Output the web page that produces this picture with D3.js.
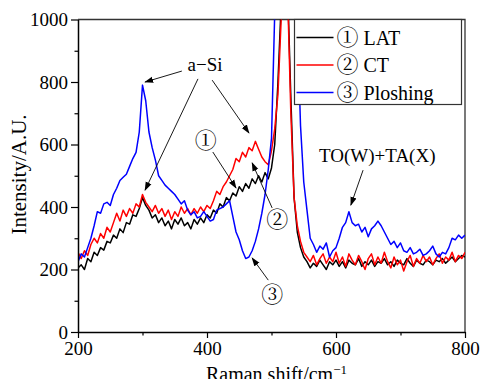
<!DOCTYPE html>
<html>
<head>
<meta charset="utf-8">
<script src="https://cdn.jsdelivr.net/npm/d3@7"></script>
<style>
  body { margin: 0; background: #fff; }
  svg { display: block; }
  text { font-family: "Liberation Serif", "Times New Roman", serif; fill: #000; }
  .cjk { font-family: "Noto Serif CJK SC", "Noto Sans CJK SC", serif; }
</style>
</head>
<body>
<div id="chart"></div>
<script>
// Raman shift grid, 200..800 step 5
var shiftStart = 200, shiftStep = 5;

var lat = [205,215,200,235,225,255,245,270,262,290,285,310,300,330,318,350,345,375,370,395,
  430,405,390,365,375,350,365,340,355,330,360,345,365,340,350,330,360,345,365,350,
  375,365,390,380,410,400,430,420,445,435,465,450,475,460,490,475,500,480,510,490,
  525,600,800,1050,1500,1100,750,430,320,270,240,225,205,220,210,230,215,200,225,215,
  230,210,225,205,230,220,215,235,210,225,215,230,210,225,220,235,215,225,210,230,
  220,215,235,220,210,230,220,215,230,225,215,230,225,235,220,230,240,225,235,245,240];

var ct = [255,235,260,245,280,300,285,315,300,335,320,350,380,355,390,370,395,380,410,400,
  440,415,400,385,405,380,395,370,390,360,385,370,400,380,395,375,395,380,400,385,
  405,395,420,450,440,465,480,500,520,555,545,575,560,590,580,610,585,560,545,535,
  580,650,760,1000,1600,1080,700,430,340,290,255,240,225,245,215,235,250,220,240,225,
  255,220,240,210,250,230,215,245,225,200,235,250,215,240,220,255,225,205,240,215,
  230,195,225,245,210,235,220,245,225,240,215,235,250,220,240,230,255,225,245,235,255];

var ploshing = [225,250,240,270,300,340,385,380,410,415,405,440,460,485,495,505,530,555,575,640,
  790,740,640,590,550,500,485,470,460,450,440,425,410,420,390,375,385,365,370,385,
  370,355,360,390,395,400,410,420,370,320,295,260,235,240,260,290,330,380,440,520,
  620,1020,1500,2000,2200,2000,1700,1300,1000,660,480,390,300,280,255,275,265,285,240,260,
  270,300,335,350,385,350,340,345,320,335,305,330,340,355,340,320,300,280,290,270,
  285,260,255,270,250,255,265,245,250,260,275,250,240,255,250,270,300,295,310,300,310];

var seriesNames = ["\u2460 LAT", "\u2461 CT", "\u2462 Ploshing"];
var seriesColors = ["#000000", "#ff0000", "#0000ff"];
var xTicks = [200, 400, 600, 800];
var xMinor = [300, 500, 700];
var yTicks = [0, 200, 400, 600, 800, 1000];
var yMinor = [100, 300, 500, 700, 900];

// annotations in data units
var notes = [
  {text: "a\u2212Si", x: 397, y: 835},
  {text: "TO(W)+TA(X)", x: 664, y: 544}
];
var circled = [
  {text: "\u2460", x: 398, y: 618},
  {text: "\u2461", x: 509, y: 365},
  {text: "\u2462", x: 501, y: 125}
];
var arrows = [
  {x1: 361, y1: 835, x2: 304, y2: 800},
  {x1: 386, y1: 810, x2: 304, y2: 454},
  {x1: 408, y1: 806, x2: 465, y2: 637},
  {x1: 409, y1: 576, x2: 445, y2: 461},
  {x1: 501, y1: 397, x2: 470, y2: 541},
  {x1: 495, y1: 166, x2: 470, y2: 237},
  {x1: 642, y1: 518, x2: 623, y2: 406}
];

var outerWidth = 480, outerHeight = 379;
var margin = {left: 78, top: 19.5, right: 15, bottom: 47};
var innerWidth = outerWidth - margin.left - margin.right;
var innerHeight = outerHeight - margin.top - margin.bottom;

var svg = d3.select("#chart").append("svg")
  .attr("width", outerWidth)
  .attr("height", outerHeight);

var defs = svg.append("defs");
defs.append("marker")
  .attr("id", "arrow")
  .attr("viewBox", "0 0 10 10")
  .attr("refX", 9).attr("refY", 5)
  .attr("markerWidth", 9).attr("markerHeight", 9)
  .attr("markerUnits", "userSpaceOnUse")
  .attr("orient", "auto")
  .append("path").attr("d", "M0,1.5 L10,5 L0,8.5 Z").attr("fill", "#000");

defs.append("clipPath").attr("id", "clip")
  .append("rect").attr("width", innerWidth).attr("height", innerHeight);

var g = svg.append("g")
  .attr("transform", "translate(" + margin.left + "," + margin.top + ")");

var scaleX = d3.scaleLinear().domain([200, 800]).range([0, innerWidth]);
var scaleY = d3.scaleLinear().domain([0, 1000]).range([innerHeight, 0]);

// frame (top + right)
g.append("path")
  .attr("d", "M0,0 H" + innerWidth + " V" + innerHeight)
  .attr("fill", "none").attr("stroke", "#333").attr("stroke-width", 1.3);

var line = d3.line()
  .x(function(d, i) { return scaleX(shiftStart + i * shiftStep); })
  .y(function(d) { return scaleY(d); });

var plot = g.append("g").attr("clip-path", "url(#clip)");
[lat, ct, ploshing].forEach(function(s, k) {
  plot.append("path")
    .attr("d", line(s))
    .attr("fill", "none")
    .attr("stroke", seriesColors[k])
    .attr("stroke-width", 1.5)
    .attr("stroke-linejoin", "round");
});

// axes
var fmt = d3.format("d");
var xAxisG = g.append("g").attr("transform", "translate(0," + innerHeight + ")");
xAxisG.call(d3.axisBottom(scaleX).tickValues(xTicks).tickFormat(fmt).tickSize(6).tickSizeOuter(0).tickPadding(4));
xAxisG.append("g").call(d3.axisBottom(scaleX).tickValues(xMinor).tickSize(3.5).tickFormat(""))
  .select(".domain").remove();

var yAxisG = g.append("g");
yAxisG.call(d3.axisLeft(scaleY).tickValues(yTicks).tickFormat(fmt).tickSize(7).tickSizeOuter(0).tickPadding(3));
yAxisG.append("g").call(d3.axisLeft(scaleY).tickValues(yMinor).tickSize(3.5).tickFormat(""))
  .select(".domain").remove();

svg.selectAll("g").attr("font-family", null);
svg.selectAll(".domain").attr("stroke", "#000").attr("stroke-width", 1.5);
svg.selectAll(".tick line").attr("stroke", "#000").attr("stroke-width", 1.2);
svg.selectAll(".tick text")
  .attr("font-size", "19px")
  .attr("fill", "#000");

// axis titles
svg.append("text")
  .attr("x", margin.left + innerWidth / 2 + 5)
  .attr("y", 381)
  .attr("text-anchor", "middle")
  .attr("font-size", "20px")
  .html("Raman shift/cm<tspan dy='-7' font-size='13px'>\u22121</tspan>");

svg.append("text")
  .attr("transform", "translate(26," + (margin.top + 155) + ") rotate(-90)")
  .attr("text-anchor", "middle")
  .attr("font-size", "21px")
  .text("Intensity/A.U.");

// annotations
var ann = g.append("g");
arrows.forEach(function(a) {
  ann.append("line")
    .attr("x1", scaleX(a.x1)).attr("y1", scaleY(a.y1))
    .attr("x2", scaleX(a.x2)).attr("y2", scaleY(a.y2))
    .attr("stroke", "#000").attr("stroke-width", 0.9)
    .attr("marker-end", "url(#arrow)");
});
notes.forEach(function(n) {
  ann.append("text")
    .attr("x", scaleX(n.x)).attr("y", scaleY(n.y))
    .attr("text-anchor", "middle")
    .attr("font-size", "19px")
    .text(n.text);
});
circled.forEach(function(c) {
  ann.append("text")
    .attr("class", "cjk")
    .attr("x", scaleX(c.x)).attr("y", scaleY(c.y))
    .attr("text-anchor", "middle")
    .attr("dominant-baseline", "central")
    .attr("font-size", "22px")
    .text(c.text);
});

// legend
var legend = g.append("g").attr("transform", "translate(" + (294.5 - margin.left) + ",0)");
legend.append("rect")
  .attr("width", 167).attr("height", 85)
  .attr("fill", "#fff").attr("stroke", "#333").attr("stroke-width", 1.2);
seriesNames.forEach(function(name, k) {
  var yy = 18 + k * 27.5;
  legend.append("line")
    .attr("x1", 2).attr("x2", 39).attr("y1", yy).attr("y2", yy)
    .attr("stroke", seriesColors[k]).attr("stroke-width", 1.6);
  var t = legend.append("text")
    .attr("x", 42).attr("y", yy + 7)
    .attr("font-size", "20px");
  t.append("tspan").attr("class", "cjk").attr("font-size", "22px")
    .text(name.slice(0, 1));
  t.append("tspan").text(name.slice(1));
});
</script>
</body>
</html>
